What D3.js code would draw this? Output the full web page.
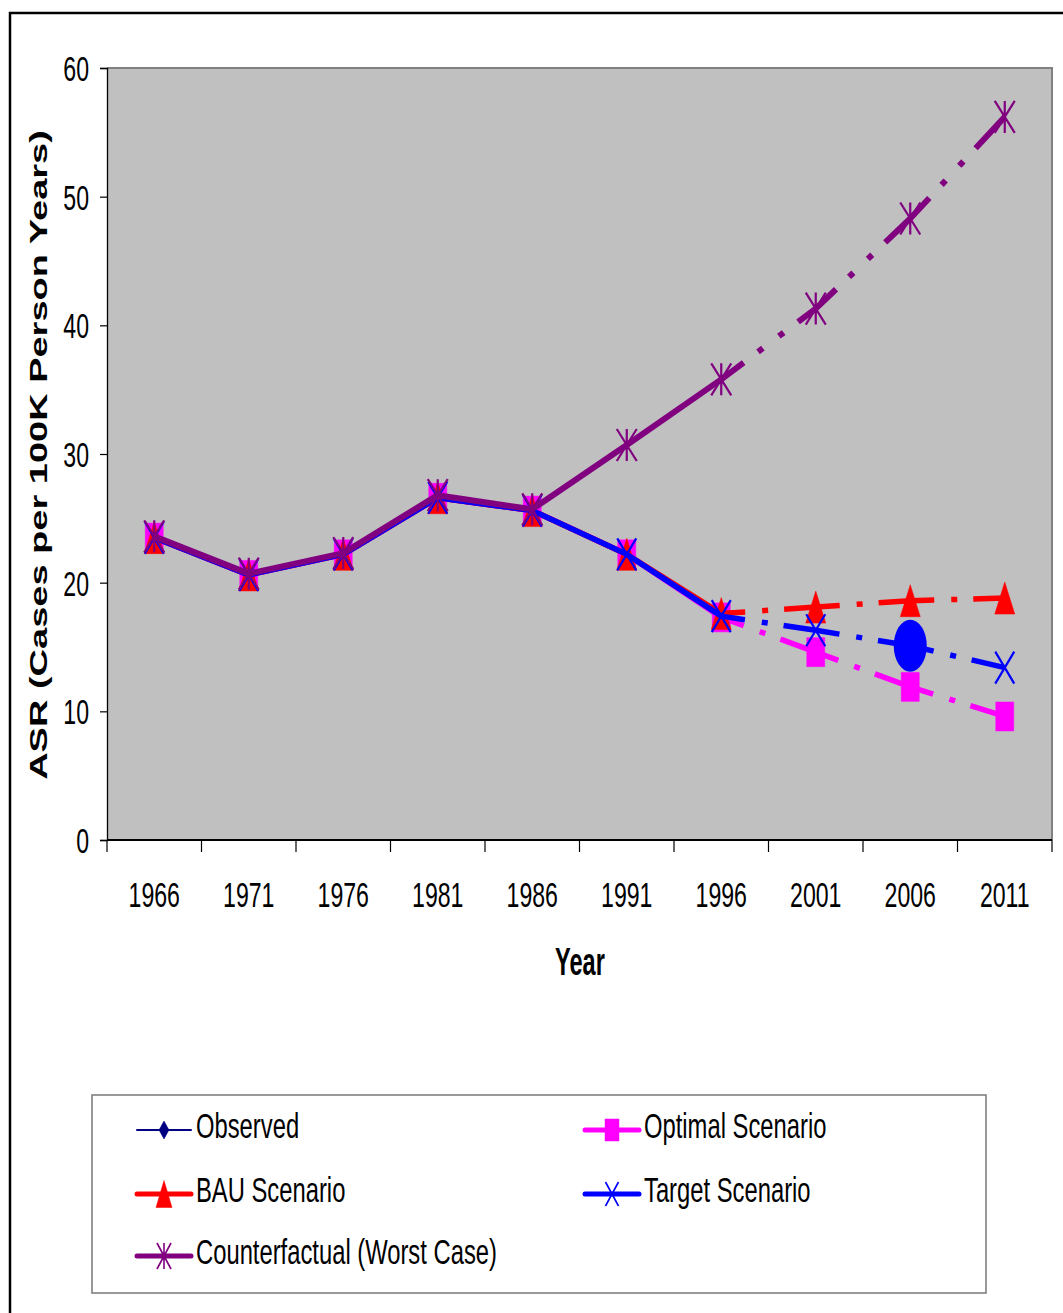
<!DOCTYPE html>
<html>
<head>
<meta charset="utf-8">
<script src="https://cdn.jsdelivr.net/npm/d3@7"></script>
<style>
  html, body { margin: 0; padding: 0; background: #ffffff; }
  svg { display: block; }
  text { font-family: "Liberation Sans", Arial, sans-serif; fill: #000; }
</style>
</head>
<body>
<svg id="chart" width="1063" height="1313"></svg>
<script>
// ---- data ----
const years = ["1966", "1971", "1976", "1981", "1986", "1991", "1996", "2001", "2006", "2011"];
const yTicks = [0, 10, 20, 30, 40, 50, 60];

const observed       = [23.5, 20.6, 22.2, 26.6, 25.6, 22.2, 17.4];
const optimal        = [23.5, 20.6, 22.2, 26.6, 25.6, 22.2, 17.3, 14.6, 11.9, 9.6];
const bau            = [23.5, 20.6, 22.2, 26.6, 25.6, 22.2, 17.6, 18.1, 18.6, 18.8];
const target         = [23.5, 20.6, 22.2, 26.6, 25.6, 22.2, 17.4, 16.3, 15.1, 13.4];
const counterfactual = [23.6, 20.7, 22.3, 26.8, 25.7, 30.7, 35.8, 41.3, 48.3, 56.2];

const projectionStart = "1996";   // projected values are drawn dashed from here on
const targetHighlight = "2006";   // emphasised point on the target path

const yTitle = "ASR (Cases per 100K Person Years)";
const xTitle = "Year";

// ---- layout ----
const svg = d3.select("#chart");
const plot = { left: 107, top: 68, right: 1052, bottom: 840 };
const SQX = 0.66;           // horizontal compression of the condensed lettering
const SQX_LEGEND = 0.68;

const x = d3.scaleBand().domain(years).range([plot.left, plot.right]).padding(0);
const y = d3.scaleLinear().domain([0, 60]).range([plot.bottom, plot.top]);
const cx = yr => x(yr) + x.bandwidth() / 2;

// outer frame
svg.append("rect")
  .attr("x", 10).attr("y", 13).attr("width", 1075).attr("height", 1330)
  .attr("fill", "none").attr("stroke", "#000").attr("stroke-width", 2.5);

// plot area
svg.append("rect")
  .attr("x", plot.left).attr("y", plot.top)
  .attr("width", plot.right - plot.left).attr("height", plot.bottom - plot.top)
  .attr("fill", "#C0C0C0");
svg.append("path")
  .attr("d", `M${plot.left},${plot.top}H${plot.right}V${plot.bottom}`)
  .attr("fill", "none").attr("stroke", "#808080").attr("stroke-width", 2);

// y axis
const yAxis = svg.append("g")
  .attr("transform", `translate(${plot.left},0)`)
  .call(d3.axisLeft(y).tickValues(yTicks).tickSize(7).tickPadding(11).tickFormat(d3.format("d")));
yAxis.select(".domain").attr("stroke", "#000").attr("stroke-width", 1.3);
yAxis.selectAll(".tick line").attr("stroke", "#000").attr("stroke-width", 1.2);
yAxis.selectAll(".tick text")
  .attr("font-size", 35).attr("font-family", "Liberation Sans, Arial, sans-serif")
  .attr("x", -18 / SQX).attr("dy", "0.36em")
  .attr("transform", `scale(${SQX},1)`);

// x axis: boundary ticks and centred year labels
const xg = svg.append("g");
xg.append("line")
  .attr("x1", plot.left).attr("x2", plot.right)
  .attr("y1", plot.bottom).attr("y2", plot.bottom)
  .attr("stroke", "#000").attr("stroke-width", 2);
const boundaries = years.map(yr => x(yr)).concat([plot.right]);
xg.selectAll("line.tick").data(boundaries).join("line")
  .attr("class", "tick")
  .attr("x1", d => d).attr("x2", d => d)
  .attr("y1", plot.bottom).attr("y2", plot.bottom + 12)
  .attr("stroke", "#000").attr("stroke-width", 1.2);
xg.selectAll("text.year").data(years).join("text")
  .attr("class", "year")
  .attr("text-anchor", "middle")
  .attr("font-size", 35)
  .attr("transform", d => `translate(${cx(d)},907) scale(${SQX},1)`)
  .text(d => d);

// axis titles
svg.append("text")
  .attr("text-anchor", "middle").attr("font-weight", "bold").attr("font-size", 38)
  .attr("transform", `translate(580,975) scale(0.62,1)`)
  .text(xTitle);
svg.append("text")
  .attr("text-anchor", "middle").attr("font-weight", "bold").attr("font-size", 38)
  .attr("transform", `translate(47,455) rotate(-90) scale(1,0.62)`)
  .text(yTitle);

// ---- marker shapes (w x h box centred on the point) ----
function markerPath(type, w, h) {
  const a = w / 2, b = h / 2;
  switch (type) {
    case "diamond":  return `M0,${-b}L${a},0L0,${b}L${-a},0Z`;
    case "square":   return `M${-a},${-b}H${a}V${b}H${-a}Z`;
    case "triangle": return `M0,${-b}L${a},${b}H${-a}Z`;
    case "x":        return `M${-a},${-b}L${a},${b}M${a},${-b}L${-a},${b}`;
    case "star":     return `M${-a},${-b}L${a},${b}M${a},${-b}L${-a},${b}M0,${-b}V${b}`;
  }
}
const filled = t => t === "diamond" || t === "square" || t === "triangle";

const series = [
  { name: "Observed",                    values: observed,       color: "#000080", width: 5,   legendWidth: 2, marker: "diamond",  size: [16, 28], lsize: [10, 18], lead: 24, mid: [17, 6, 16] },
  { name: "Optimal Scenario",            values: optimal,        color: "#FF00FF", width: 5.5, legendWidth: 5, marker: "square",   size: [18, 29], lsize: [14, 22], lead: 24, mid: [17, 6, 16] },
  { name: "BAU Scenario",                values: bau,            color: "#FF0000", width: 5.5, legendWidth: 5, marker: "triangle", size: [20, 32], lsize: [16, 27], lead: 24, mid: [17, 6, 16] },
  { name: "Target Scenario",             values: target,         color: "#0000FF", width: 5.5, legendWidth: 5, marker: "x",        size: [19, 32], lsize: [13, 24], lead: 24, mid: [17, 6, 16] },
  { name: "Counterfactual (Worst Case)", values: counterfactual, color: "#800080", width: 6,   legendWidth: 5, marker: "star",     size: [20, 32], lsize: [14, 26], lead: 28, mid: [18, 6, 20, 6, 18] }
];

const splitIdx = years.indexOf(projectionStart);
const line = d3.line().x(d => cx(d.year)).y(d => y(d.value));

series.forEach(s => {
  const pts = s.values.map((v, i) => ({ year: years[i], value: v }));
  const g = svg.append("g");

  // recorded part: solid
  g.append("path")
    .attr("d", line(pts.slice(0, splitIdx + 1)))
    .attr("fill", "none").attr("stroke", s.color).attr("stroke-width", s.width)
    .attr("stroke-linejoin", "round");

  // projected part: long dash / dot pattern restarting on every segment
  for (let i = splitIdx; i < pts.length - 1; i++) {
    const p0 = pts[i], p1 = pts[i + 1];
    const L = Math.hypot(cx(p1.year) - cx(p0.year), y(p1.value) - y(p0.value));
    const used = s.lead + d3.sum(s.mid);
    const dash = [s.lead, ...s.mid, Math.max(L - used, 1) + 2].join(" ");
    g.append("path")
      .attr("d", line([p0, p1]))
      .attr("fill", "none").attr("stroke", s.color).attr("stroke-width", s.width)
      .attr("stroke-dasharray", dash);
  }

  // markers
  pts.forEach(p => {
    const t = `translate(${cx(p.year)},${y(p.value)})`;
    if (s.name === "Target Scenario" && p.year === targetHighlight) {
      g.append("ellipse").attr("transform", t)
        .attr("rx", 16.5).attr("ry", 26).attr("fill", s.color);
      return;
    }
    g.append("path").attr("transform", t)
      .attr("d", markerPath(s.marker, s.size[0], s.size[1]))
      .attr("fill", filled(s.marker) ? s.color : "none")
      .attr("stroke", s.color).attr("stroke-width", filled(s.marker) ? 0.5 : 2.2);
  });
});

// ---- legend ----
svg.append("rect")
  .attr("x", 92).attr("y", 1095).attr("width", 894).attr("height", 198)
  .attr("fill", "#fff").attr("stroke", "#808080").attr("stroke-width", 1.6);

const colX = [137, 585];
const rowY = [1138, 1202, 1264];
series.forEach((s, i) => {
  const lx = colX[i % 2], by = rowY[Math.floor(i / 2)];
  const ly = by - 8;
  const g = svg.append("g");
  g.append("line")
    .attr("x1", lx).attr("x2", lx + 54).attr("y1", ly).attr("y2", ly)
    .attr("stroke", s.color).attr("stroke-width", s.legendWidth).attr("stroke-linecap", "round");
  g.append("path")
    .attr("transform", `translate(${lx + 27},${ly})`)
    .attr("d", markerPath(s.marker, s.lsize[0], s.lsize[1]))
    .attr("fill", filled(s.marker) ? s.color : "none")
    .attr("stroke", s.color).attr("stroke-width", filled(s.marker) ? 0.5 : 1.6);
  g.append("text")
    .attr("font-size", 35)
    .attr("transform", `translate(${lx + 59},${by}) scale(${SQX_LEGEND},1)`)
    .text(s.name);
});
</script>
</body>
</html>
